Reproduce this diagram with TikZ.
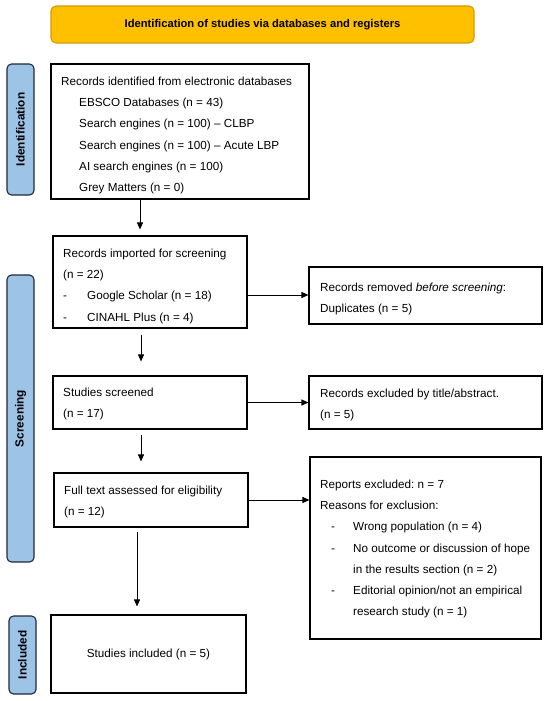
\documentclass[tikz,border=0pt]{standalone}
\usepackage{fontspec}
\setmainfont{Liberation Sans}
\usetikzlibrary{arrows.meta}
\frenchspacing
\definecolor{bannerfill}{HTML}{FFC000}
\definecolor{bannerdraw}{HTML}{D39A00}
\definecolor{phasefill}{HTML}{9DC3E6}
\definecolor{phasedraw}{HTML}{1F2A3A}
\newcommand{\dashitem}[1]{\makebox[#1][l]{-}}
\tikzset{
  boxnode/.style={draw=black, line width=1.1pt, minimum width=#1, inner sep=0pt},
  txt/.style={anchor=north west, inner sep=0pt, align=left, font=\fontsize{11.7}{21.2}\selectfont},
  phase/.style={draw=phasedraw, fill=phasefill, line width=1.1pt, rounded corners=4.5pt},
  phasetxt/.style={rotate=90, inner sep=0pt, font=\fontsize{11.8}{14}\selectfont\bfseries},
  arr/.style={line width=0.9pt, -{Triangle[length=7pt,width=6pt]}}
}
\begin{document}
\begin{tikzpicture}[x=1pt,y=-1pt]
\useasboundingbox (0,0) rectangle (550,701);
% banner
\node[draw=bannerdraw, fill=bannerfill, line width=1.1pt, rounded corners=5pt,
      minimum width=423pt, minimum height=37pt, inner sep=0pt,
      font=\fontsize{11.2}{13}\selectfont\bfseries] (banner) at (262.5,24.5)
      {Identification of studies via databases and registers};
% phase labels
\draw[phase] (7,64) rectangle (34,195);
\node[phasetxt] (idlab) at (20.5,129.5) {Identification};
\draw[phase] (7,275) rectangle (34,562);
\node[phasetxt] (scrlab) at (20.5,418.5) {Screening};
\draw[phase] (9,616) rectangle (36,694);
\node[phasetxt] (inclab) at (22.5,655) {Included};
% boxes
\node[boxnode=258pt, minimum height=135pt] (idbox) at (180,131.5) {};
\node[boxnode=194pt, minimum height=92pt] (impbox) at (150,282) {};
\node[boxnode=233pt, minimum height=57pt] (rembox) at (425.5,295.5) {};
\node[boxnode=194pt, minimum height=53pt] (scrbox) at (150,402.5) {};
\node[boxnode=233pt, minimum height=53pt] (excbox) at (425.5,402.5) {};
\node[boxnode=194pt, minimum height=54pt] (fullbox) at (151,500) {};
\node[boxnode=231pt, minimum height=182pt] (repbox) at (425.5,548) {};
\node[boxnode=195pt, minimum height=78pt] (incbox) at (148.5,654) {};
% texts
\node[txt] (idtxt) at (61,76.8) {Records identified from electronic databases\\
  \hspace*{18pt}EBSCO Databases (n = 43)\\
  \hspace*{18pt}Search engines (n = 100) -- CLBP\\
  \hspace*{18pt}Search engines (n = 100) -- Acute LBP\\
  \hspace*{18pt}AI search engines (n = 100)\\
  \hspace*{18pt}Grey Matters (n = 0)};
\node[txt] (imptxt) at (63,248.8) {Records imported for screening\\
  (n = 22)\\
  \dashitem{24pt}Google Scholar (n = 18)\\
  \dashitem{24pt}CINAHL Plus (n = 4)};
\node[txt] (remtxt) at (320,282.8) {Records removed \textit{before screening}:\\
  Duplicates (n = 5)};
\node[txt] (scrtxt) at (63,387.8) {Studies screened\\(n = 17)};
\node[txt] (exctxt) at (320,388.8) {Records excluded by title/abstract.\\(n = 5)};
\node[txt] (fulltxt) at (64,485.8) {Full text assessed for eligibility\\(n = 12)};
\node[txt] (reptxt) at (320,479.8) {Reports excluded: n = 7\\
  Reasons for exclusion:\\
  \hspace*{11pt}\dashitem{22pt}Wrong population (n = 4)\\
  \hspace*{11pt}\dashitem{22pt}No outcome or discussion of hope\\
  \hspace*{33pt}in the results section (n = 2)\\
  \hspace*{11pt}\dashitem{22pt}Editorial opinion/not an empirical\\
  \hspace*{33pt}research study (n = 1)};
\node[inner sep=0pt, font=\fontsize{11.7}{14}\selectfont] (inctxt) at (148.5,654) {Studies included (n = 5)};
% arrow guides
\coordinate (c1) at (140,0);
\coordinate (c2) at (141,0);
\coordinate (c3) at (137,0);
\coordinate (r1) at (0,295);
% arrows
\draw[arr, shorten >=6pt] (idbox.south -| c1) -- (impbox.north -| c1);
\draw[arr, shorten <=6pt, shorten >=14pt] (impbox.south -| c2) -- (scrbox.north -| c2);
\draw[arr, shorten <=5pt, shorten >=11pt] (scrbox.south -| c2) -- (fullbox.north -| c2);
\draw[arr, shorten <=4pt, shorten >=8pt] (fullbox.south -| c3) -- (incbox.north -| c3);
\draw[arr] (impbox.east |- r1) -- (rembox.west |- r1);
\draw[arr] (scrbox.east) -- (excbox.west);
\draw[arr] (fullbox.east) -- (repbox.west |- fullbox.east);
\end{tikzpicture}
\end{document}
